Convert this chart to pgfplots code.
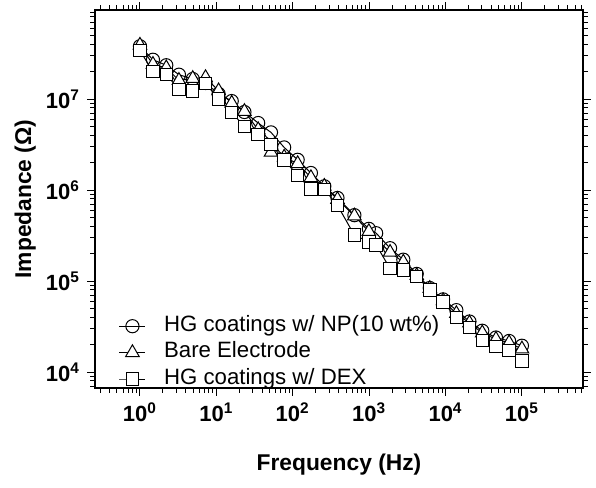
\documentclass[border=0pt]{standalone}
\usepackage{fontspec}
\setmainfont{Liberation Sans}
\usepackage{pgfplots}
\pgfplotsset{compat=1.18}
\begin{document}
\begin{tikzpicture}
\useasboundingbox (-47.5bp,-50bp) rectangle (250.5bp,194bp);
\begin{axis}[
 at={(0,0)}, anchor=south west,
 scale only axis, width=244bp, height=189bp,
 xmode=log, ymode=log,
 xmin=0.258, xmax=6.3e5, ymin=6.7e3, ymax=9.5e7,
 tick align=outside,
 major tick length=4bp, minor tick length=2.5bp,
 every tick/.style={black, line width=0.5bp},
 axis line style={line width=0.6bp},
 xtick={1,10,100,1000,10000,100000},
 xticklabels={\textbf{10\textsuperscript{0}},\textbf{10\textsuperscript{1}},\textbf{10\textsuperscript{2}},\textbf{10\textsuperscript{3}},\textbf{10\textsuperscript{4}},\textbf{10\textsuperscript{5}}},
 minor xtick={0.3,0.4,0.5,0.6,0.7,0.8,0.9,2,3,4,5,6,7,8,9,20,30,40,50,60,70,80,90,200,300,400,500,600,700,800,900,2000,3000,4000,5000,6000,7000,8000,9000,20000,30000,40000,50000,60000,70000,80000,90000,200000,300000,400000,500000,600000},
 ytick={1e4,1e5,1e6,1e7},
 yticklabels={\textbf{10\textsuperscript{4}},\textbf{10\textsuperscript{5}},\textbf{10\textsuperscript{6}},\textbf{10\textsuperscript{7}}},
 minor ytick={7000,8000,9000,20000,30000,40000,50000,60000,70000,80000,90000,200000,300000,400000,500000,600000,700000,800000,900000,2e6,3e6,4e6,5e6,6e6,7e6,8e6,9e6,2e7,3e7,4e7,5e7,6e7,7e7,8e7,9e7},
 tick label style={font=\fontsize{11bp}{13bp}\selectfont},
 label style={font=\bfseries\fontsize{11.4bp}{13bp}\selectfont},
 xlabel={Frequency (Hz)},
 ylabel={Impedance (Ω)},
 xlabel style={at={(axis description cs:0.5,-0.204)}, anchor=center},
 ylabel style={at={(axis description cs:-0.143,0.5)}, anchor=center},
 legend style={draw=none, fill=none, at={(axis description cs:0.036,0.21)}, anchor=north west,
   font=\fontsize{11.1bp}{13bp}\selectfont,
   nodes={text height=7.5bp, text depth=2.5bp, inner sep=1.6bp},
   /tikz/every odd column/.append style={column sep=7.5bp}},
 legend cell align=left,
 legend image code/.code={\draw[mark repeat=2,mark phase=2] plot coordinates {(0bp,0bp) (6.5bp,0bp) (13bp,0bp)};},
 every axis plot/.append style={black, line width=0.5bp, mark options={solid, fill=white, line width=0.5bp}},
]
\addplot[mark=o, mark size=3.3bp] coordinates {
(1,3.8e7) (1.48,2.7e7) (2.21,2.35e7) (3.24,1.85e7) (4.91,1.66e7) (7.22,1.5e7) (10.7,1.14e7) (15.9,9.5e6) (23.3,7.2e6) (35.3,5.45e6) (51.9,4.3e6) (77.2,2.94e6) (116,2.15e6) (173,1.54e6) (259,1.1e6) (385,8.2e5) (641,5.3e5) (991,3.75e5) (1236,3.36e5) (1879,2.3e5) (2801,1.72e5) (4198,1.2e5) (6223,8.4e4) (9290,6.3e4) (13860,4.8e4) (20560,3.6e4) (30260,2.85e4) (45710,2.4e4) (67920,2.2e4) (100000,1.95e4)
};
\addlegendentry{HG coatings w/ NP(10 wt\%)}
\addplot[mark=triangle*, mark size=3.9bp] coordinates {
(1,3.9e7) (1.48,2.4e7) (2.21,2.2e7) (3.24,1.6e7) (4.91,1.68e7) (7.22,1.72e7) (10.7,1.23e7) (15.9,9.0e6) (23.3,7.3e6) (35.3,4.6e6) (51.9,2.6e6) (77.2,2.3e6) (116,1.95e6) (173,1.37e6) (259,1.1e6) (385,7.9e5) (641,5.2e5) (991,3.5e5) (1879,2.07e5) (2801,1.62e5) (4198,1.15e5) (6223,8.3e4) (9290,6.1e4) (13860,4.4e4) (20560,3.47e4) (30260,2.7e4) (45710,2.3e4) (67920,2.1e4) (100000,1.8e4)
};
\addlegendentry{Bare Electrode}
\addplot[mark=square*, mark size=3.1bp] coordinates {
(1,3.4e7) (1.48,2.0e7) (2.21,1.85e7) (3.24,1.28e7) (4.91,1.23e7) (7.22,1.48e7) (10.7,1.0e7) (15.9,7.1e6) (23.3,5.0e6) (35.3,4.1e6) (51.9,3.16e6) (77.2,2.15e6) (116,1.45e6) (173,1.03e6) (259,1.02e6) (385,6.8e5) (641,3.2e5) (991,2.7e5) (1236,2.5e5) (1879,1.37e5) (2801,1.33e5) (4198,1.12e5) (6223,8.0e4) (9290,5.9e4) (13860,4.0e4) (20560,3.1e4) (30260,2.24e4) (45710,1.9e4) (67920,1.72e4) (100000,1.33e4)
};
\addlegendentry{HG coatings w/ DEX}
\end{axis}
\end{tikzpicture}
\end{document}
